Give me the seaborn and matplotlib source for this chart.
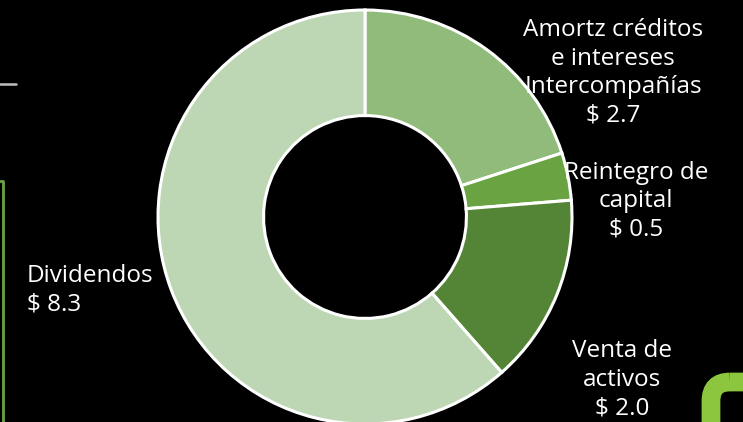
import matplotlib
matplotlib.use('Agg')
import matplotlib.pyplot as plt
import seaborn as sns
from matplotlib.patches import FancyBboxPatch

# data
categories = ['Amortz créditos\ne intereses\nIntercompañías', 'Reintegro de\ncapital', 'Venta de\nactivos', 'Dividendos']
values = [2.7, 0.5, 2.0, 8.3]
colors = ['#90BB7A', '#6AA442', '#548536', '#BDD7B4']
label_pos = [(1.198, 0.696), (1.309, 0.077), (1.242, -0.787), (-1.633, -0.353)]
label_ha = ['center', 'center', 'center', 'left']

sns.set_style('dark', {'axes.facecolor': 'black', 'figure.facecolor': 'black'})
plt.rcParams['font.family'] = ['Open Sans', 'DejaVu Sans']

fig = plt.figure(figsize=(7.43, 4.22), dpi=100)
fig.patch.set_facecolor('black')

# slide decorations, drawn in pixel coordinates
deco = fig.add_axes([0, 0, 1, 1])
deco.set_xlim(0, 743)
deco.set_ylim(422, 0)
deco.axis('off')
deco.plot([0, 16], [84, 84], color='#BFBFBF', lw=1.8)
deco.plot([0, 3, 3], [181, 181, 430], color='#6AA442', lw=2)
deco.add_patch(FancyBboxPatch((711, 382), 80, 80,
                              boxstyle='round,pad=0,rounding_size=19',
                              fill=False, edgecolor='#8CC63E', lw=13.5))

ax = fig.add_axes([158 / 743, -2 / 422, 414 / 743, 414 / 422])
ax.set_facecolor('black')
ax.pie(values, colors=colors, startangle=90, counterclock=False, radius=1,
       wedgeprops=dict(width=0.51, edgecolor='white', linewidth=2.2))
ax.set_xlim(-1, 1)
ax.set_ylim(-1, 1)
ax.set_aspect('equal')
ax.axis('off')

for cat, val, (x, y), ha in zip(categories, values, label_pos, label_ha):
    ax.text(x, y, f'{cat}\n$ {val:.1f}', ha=ha, va='center', multialignment=ha,
            color='white', fontsize=17.5, linespacing=1.25, clip_on=False, zorder=5)

fig.savefig('out.png', dpi=100, facecolor='black')
